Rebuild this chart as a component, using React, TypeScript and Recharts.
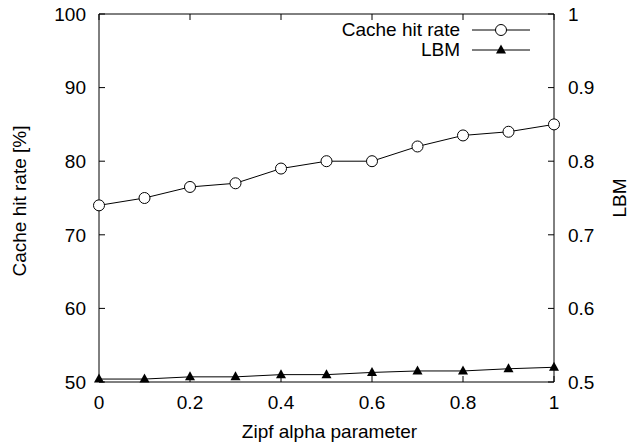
import React from "react";
import {
  LineChart,
  Line,
  XAxis,
  YAxis,
  Legend,
  Label,
} from "recharts";

const alphaValues = [0, 0.1, 0.2, 0.3, 0.4, 0.5, 0.6, 0.7, 0.8, 0.9, 1];
const hitRate = [74, 75, 76.5, 77, 79, 80, 80, 82, 83.5, 84, 85];
const lbm = [0.504, 0.504, 0.507, 0.507, 0.51, 0.51, 0.513, 0.515, 0.515, 0.518, 0.52];

const xTicks = [0, 0.2, 0.4, 0.6, 0.8, 1];
const leftTicks = [50, 60, 70, 80, 90, 100];
const rightTicks = [0.5, 0.6, 0.7, 0.8, 0.9, 1];
const seriesNames = ["Cache hit rate", "LBM"];

const FONT = "'Liberation Sans', Arial, Helvetica, sans-serif";
const FS = 19;
const TICK = 6;

const data = alphaValues.map((a, i) => ({ alpha: a, hit: hitRate[i], lbm: lbm[i] }));

const LeftTick = (props: any) => {
  const { x, y, payload } = props;
  return (
    <g>
      <line x1={x} y1={y} x2={x + TICK} y2={y} stroke="#000" />
      <text x={x - 13} y={y} dy="0.36em" textAnchor="end" fontSize={FS} fill="#000" fontFamily={FONT}>
        {payload.value}
      </text>
    </g>
  );
};

const RightTick = (props: any) => {
  const { x, y, payload } = props;
  return (
    <g>
      <line x1={x - TICK} y1={y} x2={x} y2={y} stroke="#000" />
      <text x={x + 14} y={y} dy="0.36em" textAnchor="start" fontSize={FS} fill="#000" fontFamily={FONT}>
        {payload.value}
      </text>
    </g>
  );
};

const BottomTick = (props: any) => {
  const { x, y, payload } = props;
  return (
    <g>
      <line x1={x} y1={y - TICK} x2={x} y2={y} stroke="#000" />
      <text x={x} y={y + 20} dy="0.36em" textAnchor="middle" fontSize={FS} fill="#000" fontFamily={FONT}>
        {payload.value}
      </text>
    </g>
  );
};

const TopTick = (props: any) => {
  const { x, y } = props;
  return <line x1={x} y1={y} x2={x} y2={y + TICK} stroke="#000" />;
};

const Triangle = (props: any) => {
  const { cx, cy, index } = props;
  if (cx == null || cy == null) return <g key={`t-${index}`} />;
  return (
    <polygon
      key={`t-${index}`}
      points={`${cx},${cy - 5.5} ${cx - 5},${cy + 3.5} ${cx + 5},${cy + 3.5}`}
      fill="#000"
    />
  );
};

const renderLegend = () => (
  <div style={{ fontFamily: FONT, fontSize: FS, color: "#000" }}>
    {seriesNames.map((name, i) => (
      <div
        key={name}
        style={{ display: "flex", justifyContent: "flex-end", alignItems: "center", height: 20 }}
      >
        <span style={{ lineHeight: "20px" }}>{name}</span>
        <svg width={58} height={20} style={{ marginLeft: 12 }}>
          <line x1={0} y1={10} x2={58} y2={10} stroke="#000" />
          {i === 0 ? (
            <circle cx={29} cy={10} r={5.5} fill="#fff" stroke="#000" />
          ) : (
            <polygon points="29,4.5 24,13.5 34,13.5" fill="#000" />
          )}
        </svg>
      </div>
    ))}
  </div>
);

export default function App() {
  return (
    <div style={{ position: "absolute", left: 0, top: 0, width: 630, height: 446, background: "#fff", fontFamily: FONT }}>
      <LineChart
        width={630}
        height={446}
        data={data}
        margin={{ top: 4, right: 16, bottom: 24, left: 39 }}
      >
        <XAxis
          xAxisId="bottom"
          dataKey="alpha"
          type="number"
          domain={[0, 1]}
          ticks={xTicks}
          height={40}
          tickSize={0}
          tickMargin={0}
          tickLine={false}
          stroke="#000"
          tick={<BottomTick />}
          interval={0}
        >
          <Label
            content={(p: any) => {
              const vb = p.viewBox;
              return (
                <text x={vb.x + vb.width / 2 + 3} y={vb.y + 49} dy="0.36em" textAnchor="middle" fontSize={FS} fontFamily={FONT} fill="#000">
                  Zipf alpha parameter
                </text>
              );
            }}
          />
        </XAxis>
        <XAxis
          xAxisId="top"
          orientation="top"
          dataKey="alpha"
          type="number"
          domain={[0, 1]}
          ticks={xTicks}
          height={10}
          tickSize={0}
          tickMargin={0}
          tickLine={false}
          stroke="#000"
          tick={<TopTick />}
          interval={0}
        />
        <YAxis
          yAxisId="left"
          domain={[50, 100]}
          ticks={leftTicks}
          width={60}
          tickSize={0}
          tickMargin={0}
          tickLine={false}
          stroke="#000"
          tick={<LeftTick />}
          interval={0}
        >
          <Label
            content={(p: any) => {
              const vb = p.viewBox;
              const cx = vb.x + vb.width - 80;
              const cy = vb.y + vb.height / 2 + 3;
              return (
                <text x={cx} y={cy} dy="0.36em" textAnchor="middle" fontSize={FS} fontFamily={FONT} fill="#000" transform={`rotate(-90 ${cx} ${cy})`}>
                  Cache hit rate [%]
                </text>
              );
            }}
          />
        </YAxis>
        <YAxis
          yAxisId="right"
          orientation="right"
          domain={[0.5, 1]}
          ticks={rightTicks}
          width={60}
          tickSize={0}
          tickMargin={0}
          tickLine={false}
          stroke="#000"
          tick={<RightTick />}
          interval={0}
        >
          <Label
            content={(p: any) => {
              const vb = p.viewBox;
              const cx = vb.x + 65;
              const cy = vb.y + vb.height / 2;
              return (
                <text x={cx} y={cy} dy="0.36em" textAnchor="middle" fontSize={FS} fontFamily={FONT} fill="#000" transform={`rotate(-90 ${cx} ${cy})`}>
                  LBM
                </text>
              );
            }}
          />
        </YAxis>
        <Legend
          layout="vertical"
          align="center"
          verticalAlign="middle"
          content={renderLegend}
          wrapperStyle={{ top: 20, left: 330, width: 200, bottom: "auto", right: "auto" }}
        />
        <Line
          xAxisId="bottom"
          yAxisId="left"
          dataKey="hit"
          name={seriesNames[0]}
          type="linear"
          stroke="#000"
          strokeWidth={1}
          dot={{ r: 5.5, fill: "#fff", stroke: "#000", strokeWidth: 1 }}
          activeDot={false}
          isAnimationActive={false}
        />
        <Line
          xAxisId="bottom"
          yAxisId="right"
          dataKey="lbm"
          name={seriesNames[1]}
          type="linear"
          stroke="#000"
          strokeWidth={1}
          dot={<Triangle />}
          activeDot={false}
          isAnimationActive={false}
        />
      </LineChart>
    </div>
  );
}
